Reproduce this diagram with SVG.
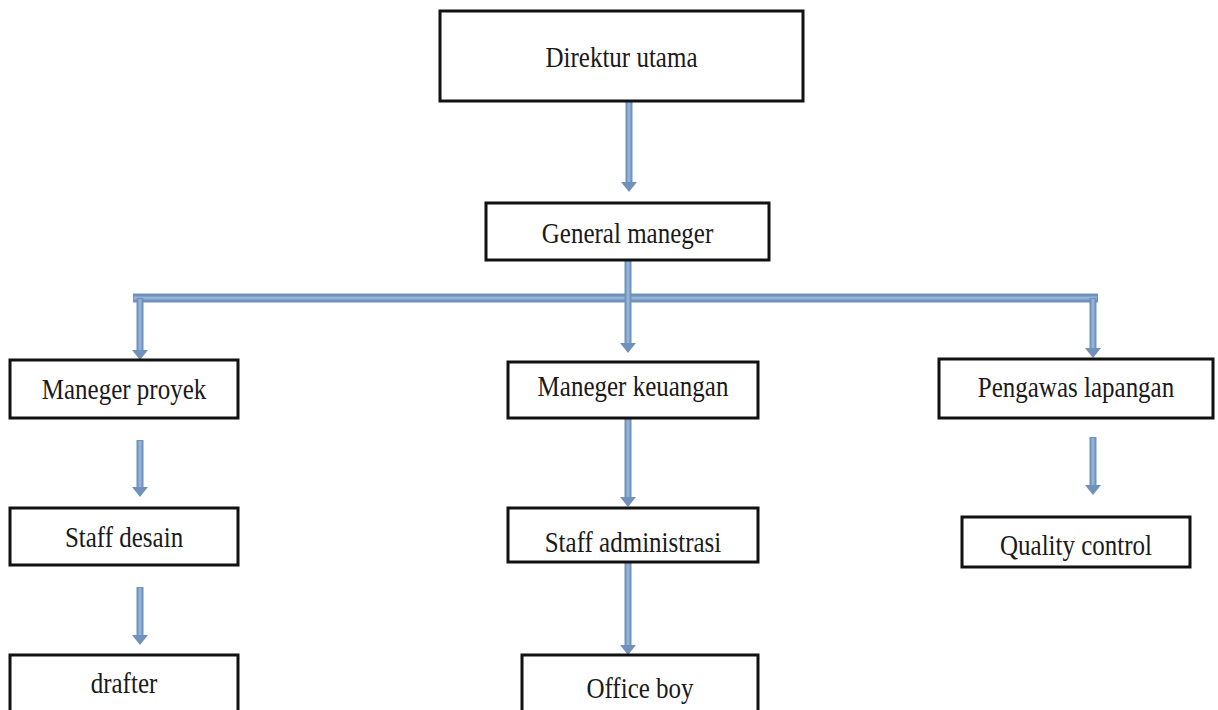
<svg xmlns="http://www.w3.org/2000/svg" width="1218" height="710" viewBox="0 0 1218 710">
<style>
.box{fill:#fff;stroke:#111;stroke-width:3}
.lbl{font-family:"Liberation Serif","Times New Roman",serif;font-size:25px;fill:#1a1a1a;text-anchor:middle}
.sh{stroke:#6f91bb;stroke-width:7;fill:none}
.bus{stroke:#6f91bb;stroke-width:9;fill:none}
.shi{stroke:#94b3d8;stroke-width:3;fill:none}
</style>
<defs>
<marker id="ah" viewBox="0 0 10 16" markerWidth="10" markerHeight="16" refX="0" refY="8" orient="auto" markerUnits="userSpaceOnUse">
<path d="M0,0 L10,8 L0,16 z" fill="#6f91bb"/>
</marker>
</defs>
<rect width="1218" height="710" fill="#fff"/>
<g id="connectors">
<path class="bus" d="M133,298 H1098"/>
<path class="shi" d="M134,298 H1097"/>
<path class="sh" d="M629,101 V182" marker-end="url(#ah)"/>
<path class="sh" d="M628,260 V343" marker-end="url(#ah)"/>
<path class="sh" d="M140,298 V350" marker-end="url(#ah)"/>
<path class="sh" d="M1093,298 V348" marker-end="url(#ah)"/>
<path class="sh" d="M140,440 V487" marker-end="url(#ah)"/>
<path class="sh" d="M140,587 V635" marker-end="url(#ah)"/>
<path class="sh" d="M628,418 V497" marker-end="url(#ah)"/>
<path class="sh" d="M628,562 V645" marker-end="url(#ah)"/>
<path class="sh" d="M1093,437 V485" marker-end="url(#ah)"/>
<path class="shi" d="M629,102 V182 M628,261 V343 M140,299 V350 M1093,299 V348 M140,441 V487 M140,588 V635 M628,419 V497 M628,563 V645 M1093,438 V485"/>
</g>
<g id="n-direktur"><rect class="box" x="440" y="11" width="363" height="90"/><text class="lbl" transform="translate(621.5,67) scale(1,1.2)">Direktur utama</text></g>
<g id="n-gm"><rect class="box" x="486" y="203" width="283" height="57"/><text class="lbl" transform="translate(627.5,243) scale(1,1.2)">General maneger</text></g>
<g id="n-mproyek"><rect class="box" x="10" y="360" width="228" height="58"/><text class="lbl" transform="translate(124,399) scale(1,1.2)">Maneger proyek</text></g>
<g id="n-mkeuangan"><rect class="box" x="508" y="362" width="250" height="56"/><text class="lbl" transform="translate(633,396) scale(1,1.2)">Maneger keuangan</text></g>
<g id="n-pengawas"><rect class="box" x="939" y="359" width="274" height="59"/><text class="lbl" transform="translate(1076,397) scale(1,1.2)">Pengawas lapangan</text></g>
<g id="n-staffdesain"><rect class="box" x="10" y="508" width="228" height="57"/><text class="lbl" transform="translate(124,547) scale(1,1.2)">Staff desain</text></g>
<g id="n-staffadm"><rect class="box" x="508" y="508" width="250" height="54"/><text class="lbl" transform="translate(633,552) scale(1,1.2)">Staff administrasi</text></g>
<g id="n-qc"><rect class="box" x="962" y="517" width="228" height="50"/><text class="lbl" transform="translate(1076,555) scale(1,1.2)">Quality control</text></g>
<g id="n-drafter"><rect class="box" x="10" y="655" width="228" height="60"/><text class="lbl" transform="translate(124,693) scale(1,1.2)">drafter</text></g>
<g id="n-officeboy"><rect class="box" x="522" y="655" width="236" height="60"/><text class="lbl" transform="translate(640,698) scale(1,1.2)">Office boy</text></g>
</svg>
